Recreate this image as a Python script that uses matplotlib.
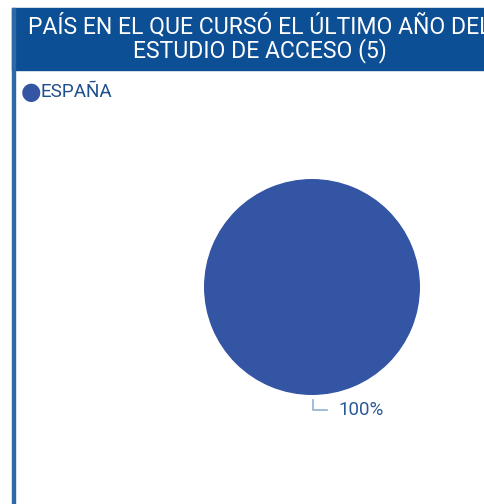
import matplotlib.pyplot as plt
from matplotlib.patches import Rectangle

# Chart data
categories = ["ESPAÑA"]
values = [100]
pct_labels = ["100%"]
title = "PAÍS EN EL QUE CURSÓ EL ÚLTIMO AÑO DEL\nESTUDIO DE ACCESO (5)"

W, H = 484, 504
fig = plt.figure(figsize=(W / 100, H / 100), dpi=100)

# header band and left border
fig.patches.append(Rectangle((12 / W, (H - 70) / H), 1, 62 / H,
                             transform=fig.transFigure, color="#0d4f94", zorder=0))
fig.patches.append(Rectangle((12 / W, 0), 3 / W, (H - 8) / H,
                             transform=fig.transFigure, color="#2d69a8", zorder=1))
fig.text(260 / W, (H - 38) / H, title, color="white", fontsize=16.6,
         family="Roboto", ha="center", va="center", linespacing=0.98)

# legend
fig.text(31 / W, (H - 92) / H, "●", color="#3455a4", fontsize=17,
         ha="center", va="center", family="DejaVu Sans")
fig.text(41 / W, (H - 92) / H, categories[0], color="#1f4f8f", fontsize=13.6,
         family="Roboto", ha="left", va="center")

# pie
cx, cy, r = 312, 287, 108
ax = fig.add_axes([(cx - r) / W, (H - cy - r) / H, 2 * r / W, 2 * r / H])
ax.pie(values, colors=["#3455a4"], startangle=90, radius=1)
ax.set_xlim(-1, 1)
ax.set_ylim(-1, 1)
ax.set_aspect("equal")
ax.axis("off")

# leader line and label
ax.plot([0.01, 0.01, 0.14], [-1.05, -1.14, -1.14], color="#8fb0d2", lw=1.2,
        clip_on=False)
ax.text(0.245, -1.14, pct_labels[0], color="#2a5a98", fontsize=13.5,
        family="Roboto", ha="left", va="center", clip_on=False)

fig.savefig("out.png", dpi=100)
